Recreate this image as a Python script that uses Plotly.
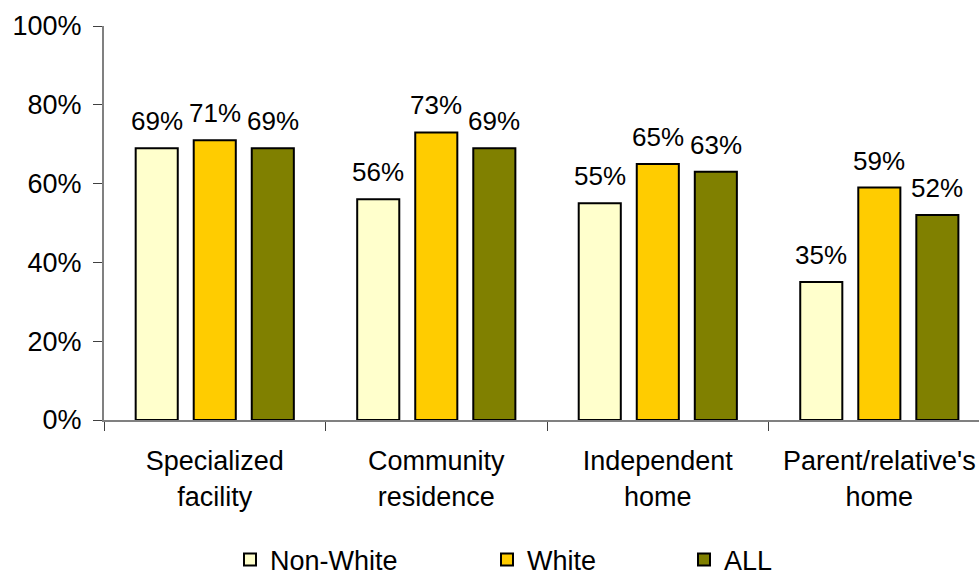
import plotly.graph_objects as go

categories = ["Specialized<br>facility", "Community<br>residence", "Independent<br>home", "Parent/relative's<br>home"]
non_white = [69, 56, 55, 35]
white = [71, 73, 65, 59]
all_vals = [69, 69, 63, 52]
series_names = ["Non-White", "White", "ALL"]
colors = ["#FFFFCC", "#FFCC00", "#808000"]
tick_vals = [0, 20, 40, 60, 80, 100]
tick_text = ["0%", "20%", "40%", "60%", "80%", "100%"]

FONT = "Liberation Sans, Arial, sans-serif"
fig = go.Figure()
legend_ids = ["legend", "legend2", "legend3"]
series_vals = [non_white, white, all_vals]
for name, vals, col, lg in zip(series_names, series_vals, colors, legend_ids):
    fig.add_trace(go.Bar(
        x=categories, y=vals, name=name,
        marker=dict(color=col, line=dict(color="#000000", width=2)),
        legend=lg, showlegend=True,
    ))

# data labels above bars
pitch_px = 58
for i, vals in enumerate(series_vals):
    for c, v in zip(categories, vals):
        fig.add_annotation(x=c, y=v, text=f"{v}%", showarrow=False,
                           xshift=(i - 1) * pitch_px, yshift=10, yanchor="bottom",
                           font=dict(family=FONT, size=26, color="#000000"))

legend_x = [230, 487, 684]
common_leg = dict(orientation="h", xref="container", yref="container",
                  y=1 - 560 / 575, yanchor="middle", xanchor="left",
                  font=dict(family=FONT, size=27, color="#000000"),
                  bgcolor="rgba(0,0,0,0)", borderwidth=0)
fig.update_layout(
    width=979, height=575,
    margin=dict(l=104, r=0, t=26, b=155),
    paper_bgcolor="white", plot_bgcolor="white",
    showlegend=True,
    barmode="group", bargap=0.214, bargroupgap=0.275,
    font=dict(family=FONT, size=27, color="#000000"),
    legend=dict(x=legend_x[0] / 979, visible=True, **common_leg),
    legend2=dict(x=legend_x[1] / 979, visible=True, **common_leg),
    legend3=dict(x=legend_x[2] / 979, visible=True, **common_leg),
    xaxis=dict(range=[-0.5, 3.45], showline=True, linecolor="#808080", linewidth=2,
               ticks="outside", tickson="boundaries", ticklen=9, tickcolor="#404040",
               ticklabelstandoff=16,
               tickfont=dict(family=FONT, size=27, color="#000000"), showgrid=False),
    yaxis=dict(range=[0, 100], tickvals=tick_vals, ticktext=tick_text,
               showline=True, linecolor="#808080", linewidth=2,
               ticks="outside", ticklen=9, tickcolor="#404040", showgrid=False,
               ticklabelstandoff=6,
               zeroline=False, tickfont=dict(family=FONT, size=27, color="#000000")),
)
fig.write_html("out.html")
